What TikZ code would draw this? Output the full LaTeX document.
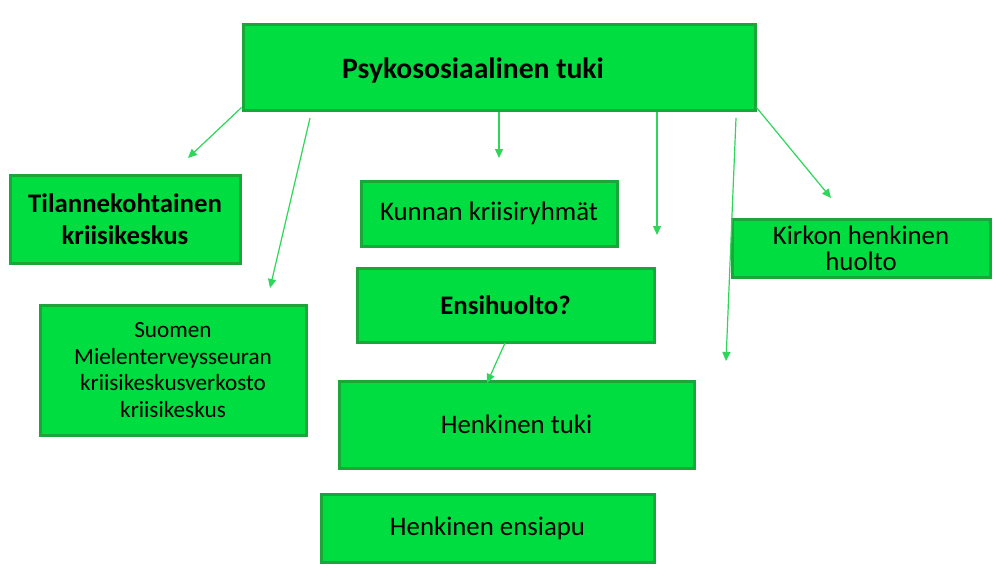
\documentclass[tikz,border=0pt]{standalone}
\usepackage{fontspec}
\setmainfont{Carlito}
\usetikzlibrary{arrows.meta}
\definecolor{boxfill}{HTML}{00DD40}
\definecolor{boxline}{HTML}{1BA63A}
\definecolor{arrowcol}{HTML}{2ED65A}
\tikzset{
  gbox/.style={draw=boxline, line width=3pt, fill=boxfill, rectangle, inner sep=0pt, align=center},
  garrow/.style={draw=arrowcol, line width=1.2pt, -{Triangle[length=9pt,width=8pt]}},
  bigtxt/.style={font=\fontsize{26.8}{32}\selectfont},
}
\begin{document}
\begin{tikzpicture}[x=1pt,y=-1pt]
\useasboundingbox (0,0) rectangle (1008,576);
\fill[white] (0,0) rectangle (1008,576);
% boxes
\node[gbox, minimum width=512pt, minimum height=86pt,
  label={[name=toptext, xshift=-26pt, yshift=-3pt, font=\fontsize{29.6}{34}\selectfont\bfseries]center:Psykososiaalinen tuki}]
  (top) at (499,67) {};
\node[gbox, minimum width=230pt, minimum height=88pt, font=\fontsize{26.8}{32}\selectfont\bfseries]
  (tila) at (125,219) {Tilannekohtainen\\kriisikeskus};
\node[gbox, minimum width=266pt, minimum height=130pt, font=\fontsize{23.2}{26.7}\selectfont]
  (suomen) at (173,370) {Suomen\\Mielenterveysseuran\\kriisikeskusverkosto\\kriisikeskus};
\node[gbox, bigtxt, minimum width=256pt, minimum height=65pt]
  (kunnan) at (489,213.5) {Kunnan kriisiryhmät};
\node[gbox, minimum width=297pt, minimum height=74pt, font=\fontsize{26.8}{32}\selectfont\bfseries]
  (ensi) at (505.5,305) {Ensihuolto?};
\node[gbox, bigtxt, minimum width=355pt, minimum height=87pt]
  (tuki) at (516.5,424.5) {Henkinen tuki};
\node[gbox, bigtxt, minimum width=333pt, minimum height=68pt]
  (ensiapu) at (487.5,528) {Henkinen ensiapu};
\node[gbox, minimum width=258pt, minimum height=58pt, font=\fontsize{26.8}{26}\selectfont]
  (kirkko) at (861,248) {Kirkon henkinen\\huolto};
% arrow endpoints
\coordinate (s2) at (310,118);
\coordinate (s3) at (499,112);
\coordinate (s4) at (657,112);
\coordinate (s5) at (736,118);
\coordinate (e1) at (188,158);
\coordinate (e2) at (270,288);
\coordinate (e3) at (499,158);
\coordinate (e4) at (657,235);
\coordinate (e5) at (726,361);
\coordinate (e6) at (831,198);
\coordinate (s7) at (505,343);
\coordinate (e7) at (487,383);
% arrows
\draw[garrow] (top.south west) ++(0,-4) -- (e1);
\draw[garrow] (s2) -- (e2);
\draw[garrow] (s3) -- (e3);
\draw[garrow] (s4) -- (e4);
\draw[garrow] (s5) -- (e5);
\draw[garrow] (top.south east) ++(0,-4) -- (e6);
\draw[garrow] (s7) -- (e7);
\end{tikzpicture}
\end{document}
